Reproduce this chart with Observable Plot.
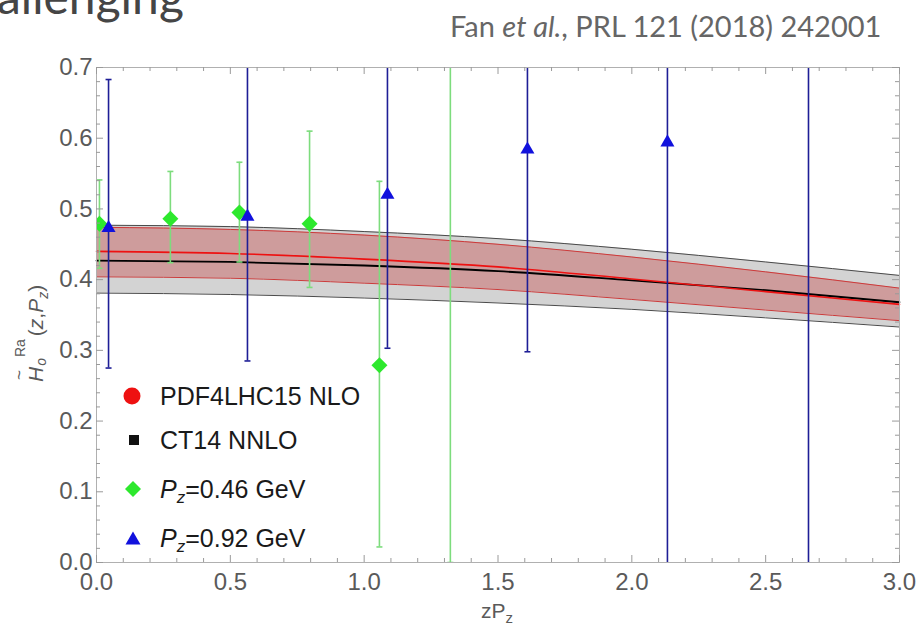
<!DOCTYPE html>
<html>
<head>
<meta charset="utf-8">
<script src="https://cdn.jsdelivr.net/npm/d3@7"></script>
<script src="https://cdn.jsdelivr.net/npm/@observablehq/plot@0.6"></script>
<style>
  body { margin: 0; background: #fff; }
  #wrap { position: relative; width: 918px; height: 626px; overflow: hidden; background: #fff; }
  #wrap svg { position: absolute; left: 0; top: 0; }
  #overlay { pointer-events: none; }
</style>
</head>
<body>
<div id="wrap">
  <div id="chart"></div>
  <svg id="overlay" width="918" height="626" font-family="'Liberation Sans', Arial, sans-serif">
    <text x="-3" y="14" font-family="Lato" font-size="48" fill="#454545">allenging</text>
    <text x="450" y="37" font-family="Lato" font-size="29" fill="#666">Fan <tspan font-style="italic">et al.</tspan>, PRL 121 (2018) 242001</text>
    <text x="497" y="618" text-anchor="middle" font-size="21" fill="#5a5a5a">zP<tspan font-size="15" dy="5">z</tspan></text>
    <g transform="translate(43,320) rotate(-90)" fill="#5a5a5a">
      <text x="-55" y="-18" text-anchor="middle" font-size="17">~</text>
      <text x="-62" y="0" font-size="21"><tspan font-style="italic">H</tspan><tspan font-size="14" dx="1" dy="3" font-style="italic">o</tspan><tspan font-size="14" dx="1" dy="-21">Ra</tspan><tspan dx="3" dy="18">(</tspan><tspan font-style="italic">z</tspan>,<tspan font-style="italic">P</tspan><tspan font-size="14" font-style="italic" dy="5">z</tspan><tspan dy="-5">)</tspan></text>
    </g>
    <g id="legend" font-size="25" fill="#1a1a1a">
      <circle cx="132" cy="396" r="8.5" fill="#ee1111"></circle>
      <rect x="129" y="435" width="10" height="10" fill="#111"></rect>
      <path d="M133,481L141,489L133,497L125,489Z" fill="#2de82d"></path>
      <path d="M133,531.5L140.5,544.5L125.5,544.5Z" fill="#1111dd"></path>
      <text x="160" y="405">PDF4LHC15 NLO</text>
      <text x="160" y="449">CT14 NNLO</text>
      <text x="160" y="498"><tspan font-style="italic">P</tspan><tspan font-style="italic" font-size="17" dy="5">z</tspan><tspan dy="-5">=0.46 GeV</tspan></text>
      <text x="160" y="547"><tspan font-style="italic">P</tspan><tspan font-style="italic" font-size="17" dy="5">z</tspan><tspan dy="-5">=0.92 GeV</tspan></text>
    </g>
  </svg>
</div>
<script>
// ---- Data ----
// Theory bands (PDF4LHC15 NLO in red, CT14 NNLO in gray/black) sampled in zP_z
const zpz        = [0.0,   0.5,   1.0,   1.5,   2.0,   2.5,   3.0];
const pdfCentral = [0.440, 0.437, 0.429, 0.418, 0.401, 0.383, 0.365];
const pdfUpper   = [0.474, 0.471, 0.463, 0.450, 0.432, 0.411, 0.388];
const pdfLower   = [0.404, 0.402, 0.395, 0.386, 0.372, 0.357, 0.342];
const ctCentral  = [0.427, 0.425, 0.420, 0.412, 0.399, 0.385, 0.368];
const ctUpper    = [0.477, 0.475, 0.468, 0.458, 0.443, 0.425, 0.406];
const ctLower    = [0.381, 0.379, 0.374, 0.367, 0.358, 0.346, 0.333];

// Lattice data, P_z = 0.46 GeV (green diamonds)
const greenX  = [0.011, 0.276, 0.534, 0.796, 1.057, 1.322];
const greenY  = [0.479, 0.486, 0.495, 0.479, 0.279, 0.900];
const greenLo = [0.416, 0.424, 0.425, 0.389, 0.022, 0.000];
const greenHi = [0.541, 0.553, 0.566, 0.610, 0.539, 1.800];

// Lattice data, P_z = 0.92 GeV (blue triangles)
const blueX  = [0.045, 0.564, 1.087, 1.610, 2.133, 2.660];
const blueY  = [0.473, 0.489, 0.520, 0.584, 0.594, 0.950];
const blueLo = [0.275, 0.285, 0.303, 0.298, -0.300, -0.200];
const blueHi = [0.683, 0.900, 1.000, 0.950, 1.500, 2.100];

// Tick values
const xMajor = [0, 0.5, 1.0, 1.5, 2.0, 2.5, 3.0];
const yMajor = [0, 0.1, 0.2, 0.3, 0.4, 0.5, 0.6, 0.7];
const xMinor = d3.range(0, 31).map(i => i / 10).filter(v => !xMajor.includes(v));
const yMinor = d3.range(0, 36).map(i => i / 50).filter(v => Math.round(v * 50) % 5 !== 0);

// ---- Build tables ----
const bands = zpz.map((x, i) => ({
  x, pc: pdfCentral[i], pu: pdfUpper[i], pl: pdfLower[i],
  cc: ctCentral[i], cu: ctUpper[i], cl: ctLower[i]
}));
const green = greenX.map((x, i) => ({x, y: greenY[i], lo: greenLo[i], hi: greenHi[i]}));
const blue = blueX.map((x, i) => ({x, y: blueY[i], lo: blueLo[i], hi: blueHi[i]}));

const W = 918, H = 626, ML = 96, MR = 19, MT = 67, MB = 64;
const innerW = W - ML - MR, innerH = H - MT - MB;

const capSymbol = {
  draw(ctx, size) {
    const h = Math.sqrt(size / Math.PI);
    ctx.moveTo(-h, 0);
    ctx.lineTo(h, 0);
  }
};

const curve = "monotone-x";
const greenBar = "#7ddc7d", blueBar = "#1e1e96", tickC = "#9a9a9a";

const chart = Plot.plot({
  width: W, height: H,
  marginLeft: ML, marginRight: MR, marginTop: MT, marginBottom: MB,
  x: {domain: [0, 3]},
  y: {domain: [0, 0.7]},
  style: {fontFamily: "'Liberation Sans', Arial, sans-serif", fontSize: "24px", color: "#5a5a5a", background: "transparent"},
  marks: [
    // CT14 band
    Plot.areaY(bands, {x: "x", y1: "cl", y2: "cu", fill: "#d3d3d3", curve}),
    // PDF4LHC15 band
    Plot.areaY(bands, {x: "x", y1: "pl", y2: "pu", fill: "#c85050", fillOpacity: 0.42, curve}),
    Plot.lineY(bands, {x: "x", y: "cu", stroke: "#4a4a4a", strokeWidth: 1, curve}),
    Plot.lineY(bands, {x: "x", y: "cl", stroke: "#4a4a4a", strokeWidth: 1, curve}),
    Plot.lineY(bands, {x: "x", y: "pu", stroke: "#cc3a3a", strokeWidth: 1, curve}),
    Plot.lineY(bands, {x: "x", y: "pl", stroke: "#cc3a3a", strokeWidth: 1, curve}),
    Plot.lineY(bands, {x: "x", y: "cc", stroke: "#000", strokeWidth: 1.8, curve}),
    Plot.lineY(bands, {x: "x", y: "pc", stroke: "#ee1111", strokeWidth: 1.6, curve}),

    // error bars
    Plot.ruleX(green, {x: "x", y1: "lo", y2: "hi", stroke: greenBar, strokeWidth: 1.6, clip: true}),
    Plot.dot(green, {x: "x", y: "lo", symbol: capSymbol, r: 3, stroke: greenBar, fill: "none", strokeWidth: 1.6, clip: true}),
    Plot.dot(green, {x: "x", y: "hi", symbol: capSymbol, r: 3, stroke: greenBar, fill: "none", strokeWidth: 1.6, clip: true}),
    Plot.ruleX(blue, {x: "x", y1: "lo", y2: "hi", stroke: blueBar, strokeWidth: 1.6, clip: true}),
    Plot.dot(blue, {x: "x", y: "lo", symbol: capSymbol, r: 3, stroke: blueBar, fill: "none", strokeWidth: 1.6, clip: true}),
    Plot.dot(blue, {x: "x", y: "hi", symbol: capSymbol, r: 3, stroke: blueBar, fill: "none", strokeWidth: 1.6, clip: true}),

    // markers
    Plot.dot(green, {x: "x", y: "y", symbol: "diamond2", r: 7.2, fill: "#2de82d", stroke: "none", clip: true}),
    Plot.dot(blue, {x: "x", y: "y", symbol: "triangle", r: 5.2, fill: "#1111dd", stroke: "none", clip: true}),

    // frame and inward ticks (Mathematica style)
    Plot.frame({stroke: "#b0b0b0"}),
    Plot.tickY(yMajor, {y: d => d, insetRight: innerW - 7, stroke: tickC}),
    Plot.tickY(yMinor, {y: d => d, insetRight: innerW - 4, stroke: tickC}),
    Plot.tickY(yMajor, {y: d => d, insetLeft: innerW - 7, stroke: tickC}),
    Plot.tickY(yMinor, {y: d => d, insetLeft: innerW - 4, stroke: tickC}),
    Plot.tickX(xMajor, {x: d => d, insetTop: innerH - 7, stroke: tickC}),
    Plot.tickX(xMinor, {x: d => d, insetTop: innerH - 4, stroke: tickC}),
    Plot.tickX(xMajor, {x: d => d, insetBottom: innerH - 7, stroke: tickC}),
    Plot.tickX(xMinor, {x: d => d, insetBottom: innerH - 4, stroke: tickC}),

    Plot.axisX({ticks: xMajor, tickFormat: d3.format(".1f"), tickSize: 0, tickPadding: 10, label: null}),
    Plot.axisY({ticks: yMajor, tickFormat: d3.format(".1f"), tickSize: 0, tickPadding: 4, label: null})
  ]
});
document.getElementById("chart").appendChild(chart);
</script>
</body>
</html>
